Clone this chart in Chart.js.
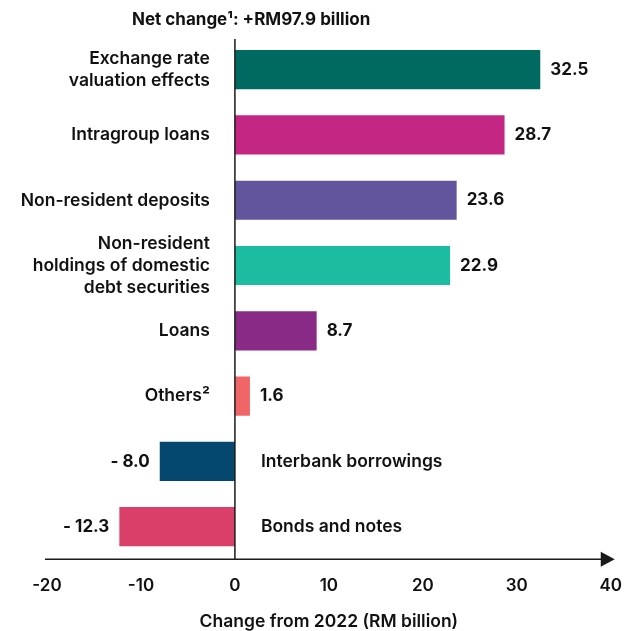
<!DOCTYPE html>
<html>
<head>
<meta charset="utf-8">
<script src="https://cdn.jsdelivr.net/npm/chart.js@4/dist/chart.umd.min.js"></script>
<style>
  html, body { margin: 0; padding: 0; background: #ffffff; }
  canvas { display: block; }
</style>
</head>
<body>
<canvas id="chart" width="638" height="631"></canvas>
<script>
// Components of the change in external debt, RM billion
const categories = [
  ['Exchange rate', 'valuation effects'],
  ['Intragroup loans'],
  ['Non-resident deposits'],
  ['Non-resident', 'holdings of domestic', 'debt securities'],
  ['Loans'],
  ['Others²'],
  ['Interbank borrowings'],
  ['Bonds and notes']
];
const values = [32.5, 28.7, 23.6, 22.9, 8.7, 1.6, -8.0, -12.3];
const barColors = ['#006a60', '#c42684', '#62559e', '#1bbc9f', '#8a2a87', '#f06568', '#044870', '#da3f6a'];
const xTickValues = [-20, -10, 0, 10, 20, 30, 40];
const headline = 'Net change¹: +RM97.9 billion';
const xTitle = 'Change from 2022 (RM billion)';

const FONT = 'Inter, "Liberation Sans", Arial, sans-serif';
const INK = '#111111';

function fmt(v) {
  return v < 0 ? '- ' + Math.abs(v).toFixed(1) : v.toFixed(1);
}

// Axis line with arrow, zero line, category names, value labels and headline
const annotate = {
  id: 'annotate',
  afterDatasetsDraw(chart) {
    const { ctx, chartArea, scales } = chart;
    const x = scales.x, y = scales.y;
    const zero = x.getPixelForValue(0);
    ctx.save();

    // zero line
    ctx.strokeStyle = '#1a1a1a';
    ctx.lineWidth = 1.5;
    ctx.beginPath();
    ctx.moveTo(zero, chartArea.top + 2);
    ctx.lineTo(zero, chartArea.bottom);
    ctx.stroke();

    // horizontal axis with arrow head
    const ay = chartArea.bottom;
    ctx.beginPath();
    ctx.moveTo(chartArea.left - 2, ay);
    ctx.lineTo(chartArea.right - 8, ay);
    ctx.stroke();
    ctx.fillStyle = '#1a1a1a';
    ctx.beginPath();
    ctx.moveTo(chartArea.right + 4, ay);
    ctx.lineTo(chartArea.right - 10, ay - 7.5);
    ctx.lineTo(chartArea.right - 10, ay + 7.5);
    ctx.closePath();
    ctx.fill();

    // labels
    ctx.fillStyle = INK;
    ctx.textBaseline = 'middle';
    const lh = 22;
    const meta = chart.getDatasetMeta(0);
    values.forEach((v, i) => {
      const cy = y.getPixelForValue(i);
      const bar = meta.data[i];
      const lines = categories[i];
      ctx.font = '600 17.5px ' + FONT;
      const startY = cy - (lines.length - 1) * lh / 2;
      if (v >= 0) {
        ctx.textAlign = 'right';
        lines.forEach((t, k) => ctx.fillText(t, zero - 25, startY + k * lh));
        ctx.font = '700 17px ' + FONT;
        ctx.textAlign = 'left';
        ctx.fillText(fmt(v), bar.x + 10, cy);
      } else {
        ctx.textAlign = 'left';
        lines.forEach((t, k) => ctx.fillText(t, zero + 26, startY + k * lh));
        ctx.font = '700 17px ' + FONT;
        ctx.textAlign = 'right';
        ctx.fillText(fmt(v), bar.x - 10, cy);
      }
    });

    // headline
    ctx.font = '700 17px ' + FONT;
    ctx.textAlign = 'left';
    ctx.fillText(headline, 132, 20);
    ctx.restore();
  }
};

new Chart(document.getElementById('chart'), {
  type: 'bar',
  data: {
    labels: categories.map(c => c.join(' ')),
    datasets: [{
      data: values,
      backgroundColor: barColors,
      borderWidth: 0,
      barPercentage: 0.6,
      categoryPercentage: 1.0
    }]
  },
  options: {
    indexAxis: 'y',
    responsive: false,
    devicePixelRatio: 1,
    animation: false,
    layout: { padding: { left: 47, right: 27, top: 37, bottom: 0 } },
    plugins: { legend: { display: false }, tooltip: { enabled: false } },
    scales: {
      x: {
        min: -20,
        max: 40,
        afterBuildTicks(scale) { scale.ticks = xTickValues.map(v => ({ value: v })); },
        grid: { display: false, drawTicks: false },
        border: { display: false },
        ticks: {
          color: INK,
          padding: 16,
          maxRotation: 0,
          font: { family: FONT, size: 17, weight: '600' }
        },
        title: {
          display: true,
          text: xTitle,
          color: INK,
          padding: { top: 0, bottom: 0 },
          font: { family: FONT, size: 17.5, weight: '600', lineHeight: 1.1 }
        }
      },
      y: {
        display: false,
        grid: { display: false }
      }
    }
  },
  plugins: [annotate]
});
</script>
</body>
</html>
